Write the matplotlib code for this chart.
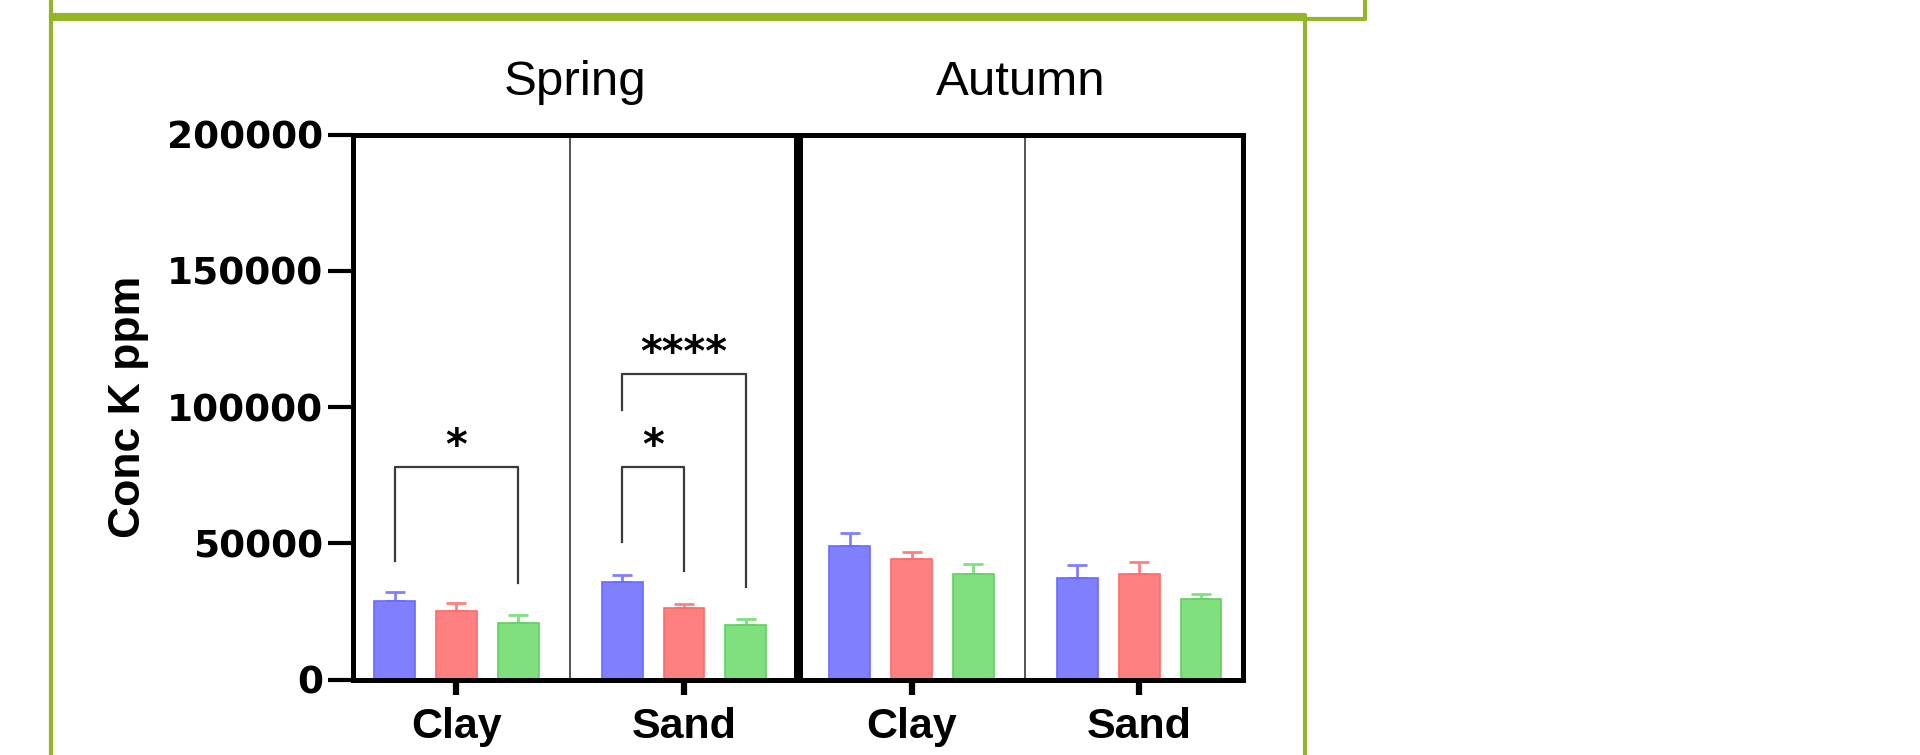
import numpy as np
import matplotlib.pyplot as plt
from matplotlib.lines import Line2D

# %% data
seasons = ["Spring", "Autumn"]
soils = ["Clay", "Sand", "Clay", "Sand"]

blue_vals = [29000, 36000, 49100, 37300]
blue_err = [3000, 2300, 4700, 4900]
red_vals = [25000, 26300, 44100, 38700]
red_err = [3000, 1500, 2900, 4600]
green_vals = [20700, 19900, 38700, 29600]
green_err = [3100, 2300, 3600, 1800]

# significance brackets: group, first bar, second bar, top, left leg end, right leg end, label
br_group = [0, 1, 1]
br_a = [0, 0, 0]
br_b = [2, 1, 2]
br_top = [78000, 78000, 112000]
br_left = [43500, 50600, 99000]
br_right = [35600, 39700, 34000]
br_label = ["*", "*", "****"]

yticks = [0, 50000, 100000, 150000, 200000]

# %% plot
W, H = 1920, 755
fig = plt.figure(figsize=(W / 100, H / 100), dpi=100)
ax = fig.add_axes([352.6 / W, 1 - 679.6 / H, 890.4 / W, 545 / H])

pos = 1.68 + 3.68 * np.arange(len(soils))
bw = 0.66
fills = ["#8080ff", "#ff8080", "#80e080"]
edges = ["#6a6aff", "#ff6a6a", "#60d060"]
series = [(blue_vals, blue_err), (red_vals, red_err), (green_vals, green_err)]

for k, (vals, err) in enumerate(series):
    x = pos + (k - 1)
    ax.bar(x, vals, bw, color=fills[k], edgecolor=edges[k], linewidth=1.2, zorder=2)
    ax.errorbar(x, vals, yerr=[np.zeros(len(err)), err], fmt="none",
                ecolor=fills[k], elinewidth=2, capsize=7.5, capthick=2, zorder=1)

# brackets
for g, a, b, top, la, lb, lab in zip(br_group, br_a, br_b, br_top, br_left, br_right, br_label):
    xa = pos[g] + a - 1
    xb = pos[g] + b - 1
    ax.plot([xa, xa, xb, xb], [la, top, top, lb], color="#3a3a3a", lw=1.6, zorder=3)
    ax.text((xa + xb) / 2, top + 7500, lab, ha="center", va="center",
            fontsize=30, fontweight="bold", family="DejaVu Sans")

# panel dividers
mids = (pos[:-1] + pos[1:]) / 2
ax.axvline(mids[0], color="#555555", lw=1.4)
ax.axvline(mids[1], color="black", lw=6.5)
ax.axvline(mids[2], color="#555555", lw=1.4)

ax.set_xlim(0, 14.4)
ax.set_ylim(0, 200000)
ax.set_yticks(yticks)
ax.set_yticklabels([str(v) for v in yticks], fontsize=27, fontweight="bold",
                   family="DejaVu Sans")
ax.set_xticks(pos)
ax.set_xticklabels(soils, fontsize=31, fontweight="bold", family="Liberation Sans")
ax.tick_params(axis="y", length=18, width=3, pad=3)
ax.tick_params(axis="x", length=11, width=4.5, pad=9)
for s in ax.spines.values():
    s.set_linewidth(3.6)

ax.set_ylabel("Conc K ppm", fontsize=32, fontweight="bold", family="Liberation Sans")
ax.yaxis.set_label_coords(-0.229, 0.5)

# season headers
for i, name in enumerate(seasons):
    ax.text(3.6 + 7.2 * i, 1.072, name, transform=ax.get_xaxis_transform(),
            ha="center", va="baseline", fontsize=35.5, family="Liberation Sans")

# green page frames
green = "#95b529"


def frame(xs, ys):
    fig.add_artist(Line2D([v / W for v in xs], [1 - v / H for v in ys],
                          transform=fig.transFigure, color=green, lw=3, clip_on=False))


frame([51, 51, 1365, 1365], [-5, 19, 19, -5])
frame([51, 51, 1305, 1305], [760, 15, 15, 760])

fig.savefig("out.png", dpi=100)
